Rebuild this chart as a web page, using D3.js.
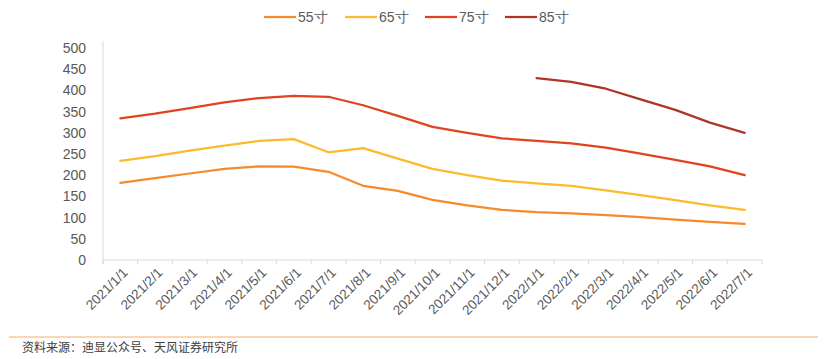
<!DOCTYPE html>
<html><head><meta charset="utf-8">
<script src="https://cdn.jsdelivr.net/npm/d3@7"></script>
<style>body{margin:0;background:#fff}svg{display:block}</style>
</head><body>
<svg id="c" width="831" height="359"></svg>
<script>
const categories = ["2021/1/1","2021/2/1","2021/3/1","2021/4/1","2021/5/1","2021/6/1","2021/7/1","2021/8/1","2021/9/1","2021/10/1","2021/11/1","2021/12/1","2022/1/1","2022/2/1","2022/3/1","2022/4/1","2022/5/1","2022/6/1","2022/7/1"];
const s55 = [182,193,204,215,221,220,208,175,163,142,129,118,113,110,106,101,95,90,85];
const s65 = [234,245,258,270,281,285,254,264,239,215,200,187,181,175,164,153,141,129,118];
const s75 = [334,345,358,372,382,387,385,365,340,314,300,287,281,275,265,251,236,221,200];
const s85 = [null,null,null,null,null,null,null,null,null,null,null,null,429,420,404,379,354,324,300];
const seriesNames = ["55寸","65寸","75寸","85寸"];
const seriesColors = ["#F58B2A","#FDBA2C","#E0431D","#AE3529"];
const yTicks = [0,50,100,150,200,250,300,350,400,450,500];
const source = "资料来源：迪显公众号、天风证券研究所";

const svg = d3.select("#c");
const x = d3.scaleBand().domain(categories).range([103,762]);
const y = d3.scaleLinear().domain([0,500]).range([260,48]);
const font = "'Liberation Sans', Arial, sans-serif";
const grey = "#595959";

// y axis
svg.append("line").attr("x1",103).attr("x2",103).attr("y1",y(500)-7).attr("y2",y(0)+4)
  .attr("stroke","#d9d9d9").attr("stroke-width",1);
svg.selectAll(".yl").data(yTicks).enter().append("text")
  .attr("x",86).attr("y",d=>y(d)+5).attr("text-anchor","end")
  .attr("font-family",font).attr("font-size",14).attr("fill",grey).text(d=>d);

// x axis
svg.append("line").attr("x1",103).attr("x2",762).attr("y1",y(0)).attr("y2",y(0))
  .attr("stroke","#d9d9d9").attr("stroke-width",1);
const bounds = categories.map(c=>x(c)).concat([x.range()[1]]);
svg.selectAll(".xt").data(bounds).enter().append("line")
  .attr("x1",d=>d).attr("x2",d=>d).attr("y1",y(0)).attr("y2",y(0)+4)
  .attr("stroke","#d9d9d9");
svg.selectAll(".xl").data(categories).enter().append("text")
  .attr("transform",d=>`translate(${x(d)+x.bandwidth()/2+5},${y(0)+10}) rotate(-45)`)
  .attr("text-anchor","end").attr("dy","0.35em")
  .attr("font-family",font).attr("font-size",13.5).attr("fill",grey).text(d=>d);

// lines
const all = [s55,s65,s75,s85];
const line = d3.line().defined(d=>d.v!=null)
  .x(d=>x(d.c)+x.bandwidth()/2).y(d=>y(d.v));
all.forEach((s,i)=>{
  svg.append("path").datum(categories.map((c,j)=>({c,v:s[j]})))
    .attr("d",line).attr("fill","none").attr("stroke",seriesColors[i])
    .attr("stroke-width",2.25).attr("stroke-linejoin","round").attr("stroke-linecap","round");
});

// legend
const lx = [264,345,425,505];
seriesNames.forEach((n,i)=>{
  svg.append("line").attr("x1",lx[i]).attr("x2",lx[i]+32).attr("y1",17).attr("y2",17)
    .attr("stroke",seriesColors[i]).attr("stroke-width",2.25);
  svg.append("text").attr("x",lx[i]+34).attr("y",22).attr("font-family",font)
    .attr("font-size",14).attr("fill",grey).text(n);
});

// footer
svg.append("line").attr("x1",9).attr("x2",818).attr("y1",337).attr("y2",337)
  .attr("stroke","#F9C99A").attr("stroke-width",1.5);
svg.append("text").attr("x",22).attr("y",352).attr("font-family","'Noto Sans CJK SC', sans-serif")
  .attr("font-size",12).attr("fill","#404040").text(source);
</script>
</body></html>
